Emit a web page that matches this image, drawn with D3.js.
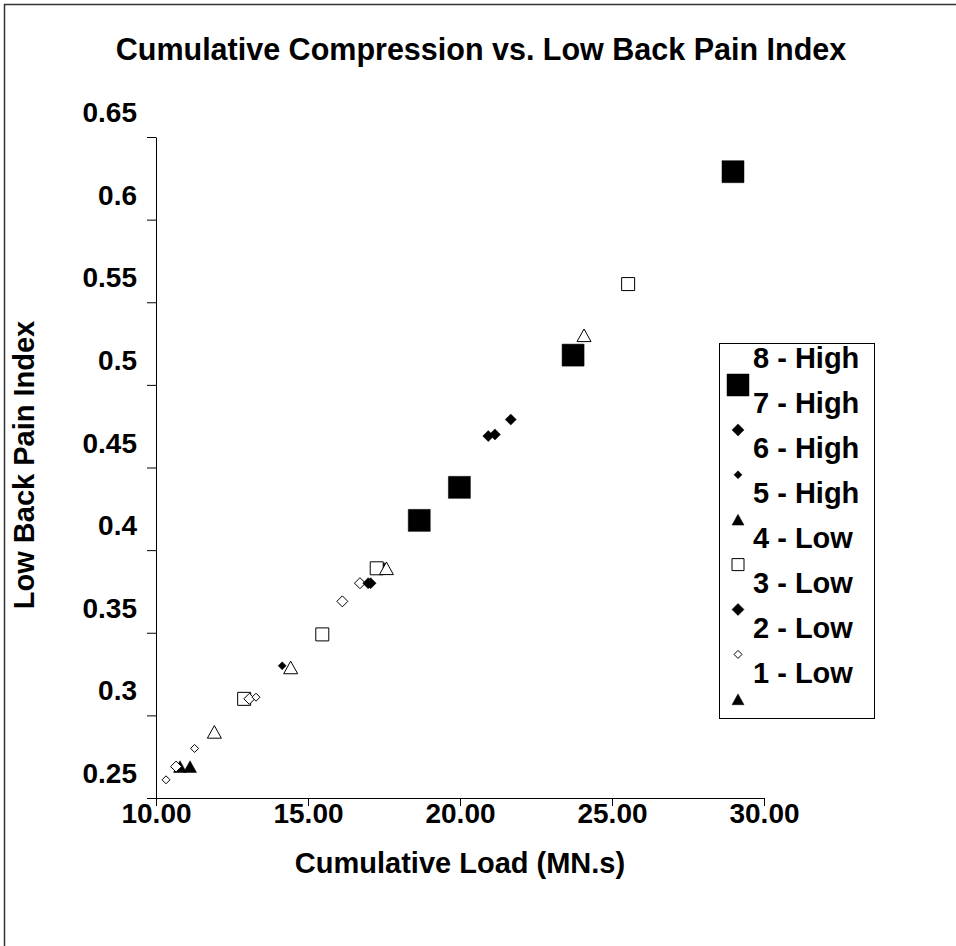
<!DOCTYPE html>
<html><head><meta charset="utf-8">
<script src="https://cdn.jsdelivr.net/npm/d3@7"></script>
<style>
html,body{margin:0;padding:0;background:#fff;}
svg text{font-family:"Liberation Sans",Arial,sans-serif;font-weight:bold;fill:#000;}
</style></head>
<body>
<svg id="chart" width="956" height="946"></svg>
<script>
// ---- data ----
const title = "Cumulative Compression vs. Low Back Pain Index";
const xTitle = "Cumulative Load (MN.s)";
const yTitle = "Low Back Pain Index";
const xTicks = [10, 15, 20, 25, 30];
const yTicks = [0.25, 0.3, 0.35, 0.4, 0.45, 0.5, 0.55, 0.6, 0.65];
const yTickLabels = ["0.25","0.3","0.35","0.4","0.45","0.5","0.55","0.6","0.65"];
const legendLabels = ["8 - High","7 - High","6 - High","5 - High","4 - Low","3 - Low","2 - Low","1 - Low"];

const s8High = [[18.66,0.418],[19.98,0.438],[23.72,0.518],[28.98,0.629]];
const s7High = [[20.93,0.469],[21.15,0.470],[21.67,0.479]];
const s6High = [[14.15,0.330]];
const s5High = [[10.79,0.269],[11.12,0.269]];
const s4Low  = [[25.53,0.561],[17.26,0.389],[15.47,0.349],[12.90,0.310]];
const s3Low  = [[16.98,0.380],[17.06,0.380]];
const s2Low  = [[10.33,0.261],[11.27,0.280],[13.29,0.311]];
const s1Low  = [[17.50,0.389]];
const sOpenTri = [[24.08,0.530],[17.58,0.389],[14.43,0.329],[11.92,0.290]];
const sOpenDia = [[16.71,0.380],[16.13,0.369],[13.07,0.310],[10.66,0.269]];

// marker styles (shape, size px, filled)
const series = [
  {name:legendLabels[7], data:s1Low, shape:"tri", size:13, filled:true},
  {name:legendLabels[3], data:s5High, shape:"tri", size:13, filled:true},
  {name:legendLabels[0], data:s8High, shape:"sq", size:22, filled:true},
  {name:legendLabels[4], data:s4Low, shape:"sq", size:13, filled:false},
  {name:"", data:sOpenDia, shape:"dia", size:11, filled:false},
  {name:legendLabels[6], data:s2Low, shape:"dia", size:8, filled:false},
  {name:legendLabels[5], data:s3Low, shape:"dia", size:11, filled:true},
  {name:legendLabels[1], data:s7High, shape:"dia", size:11, filled:true},
  {name:legendLabels[2], data:s6High, shape:"dia", size:8, filled:true},
  {name:"", data:sOpenTri, shape:"tri", size:14, filled:false}
];
const legendOrder = [2,7,8,1,3,6,5,0]; // series index per legend row

// ---- shapes ----
const shapes = {
  sq:{draw(c,s){const h=s/2;c.moveTo(-h,-h);c.lineTo(h,-h);c.lineTo(h,h);c.lineTo(-h,h);c.closePath();}},
  dia:{draw(c,s){const h=s/2;c.moveTo(0,-h);c.lineTo(h,0);c.lineTo(0,h);c.lineTo(-h,0);c.closePath();}},
  tri:{draw(c,s){const h=s/2;const t=s*0.9;c.moveTo(0,-t/2);c.lineTo(h,t/2);c.lineTo(-h,t/2);c.closePath();}}
};
function symbolPath(d){return d3.symbol().type(shapes[d.shape]).size(d.size)();}

const svg = d3.select("#chart");
// frame
svg.append("path").attr("d","M4.5,946 L4.5,4.5 L956,4.5").attr("fill","none").attr("stroke","#333").attr("stroke-width",1.5);

const x = d3.scaleLinear().domain([10,30]).range([156,764]);
const y = d3.scaleLinear().domain([0.25,0.65]).range([798,137]);

// title
svg.append("text").attr("x",481).attr("y",60).attr("text-anchor","middle").style("font-size","30.5px").text(title);

// x axis
const gx = svg.append("g").attr("transform","translate(0,798)")
  .call(d3.axisBottom(x).tickValues(xTicks).tickFormat(d3.format(".2f")).tickSize(8).tickSizeOuter(0));
gx.select(".domain").attr("stroke","#000");
gx.selectAll("text").style("font-size","28px").attr("y",5).attr("dy","0.71em");

// y axis
const gy = svg.append("g").attr("transform","translate(156,0)")
  .call(d3.axisLeft(y).tickValues(yTicks).tickFormat((d,i)=>yTickLabels[i]).tickSize(9).tickSizeOuter(0));
gy.select(".domain").attr("stroke","#000");
gy.selectAll("text").style("font-size","28px").attr("x",-19).attr("dy","-0.55em");

// axis titles
svg.append("text").attr("x",460).attr("y",873).attr("text-anchor","middle").style("font-size","29px").text(xTitle);
svg.append("text").attr("transform","translate(34,465) rotate(-90)").attr("text-anchor","middle").style("font-size","29px").text(yTitle);

// points
series.forEach(s=>{
  svg.append("g").selectAll("path").data(s.data).join("path")
    .attr("transform",d=>`translate(${x(d[0])},${y(d[1])})`)
    .attr("d",symbolPath(s))
    .attr("fill",s.filled?"#000":"#fff")
    .attr("stroke","#000").attr("stroke-width",s.filled?0.5:1);
});

// legend
const lg = svg.append("g");
lg.append("rect").attr("x",719.5).attr("y",343.5).attr("width",155).attr("height",375)
  .attr("fill","#fff").attr("stroke","#000").attr("stroke-width",1);
legendLabels.forEach((lab,i)=>{
  const cy = 358 + i*44.9;
  lg.append("text").attr("x",753).attr("y",cy).attr("dy","0.36em").style("font-size","29px").text(lab);
  const s = series[legendOrder[i]];
  const sz = s.shape==="sq" && s.filled ? 22 : (s.size<=8 ? 8 : 12);
  lg.append("path").attr("transform",`translate(738,${cy+27})`)
    .attr("d",d3.symbol().type(shapes[s.shape]).size(sz)())
    .attr("fill",s.filled?"#000":"#fff").attr("stroke","#000").attr("stroke-width",s.filled?0.5:1);
});
</script>
</body></html>
